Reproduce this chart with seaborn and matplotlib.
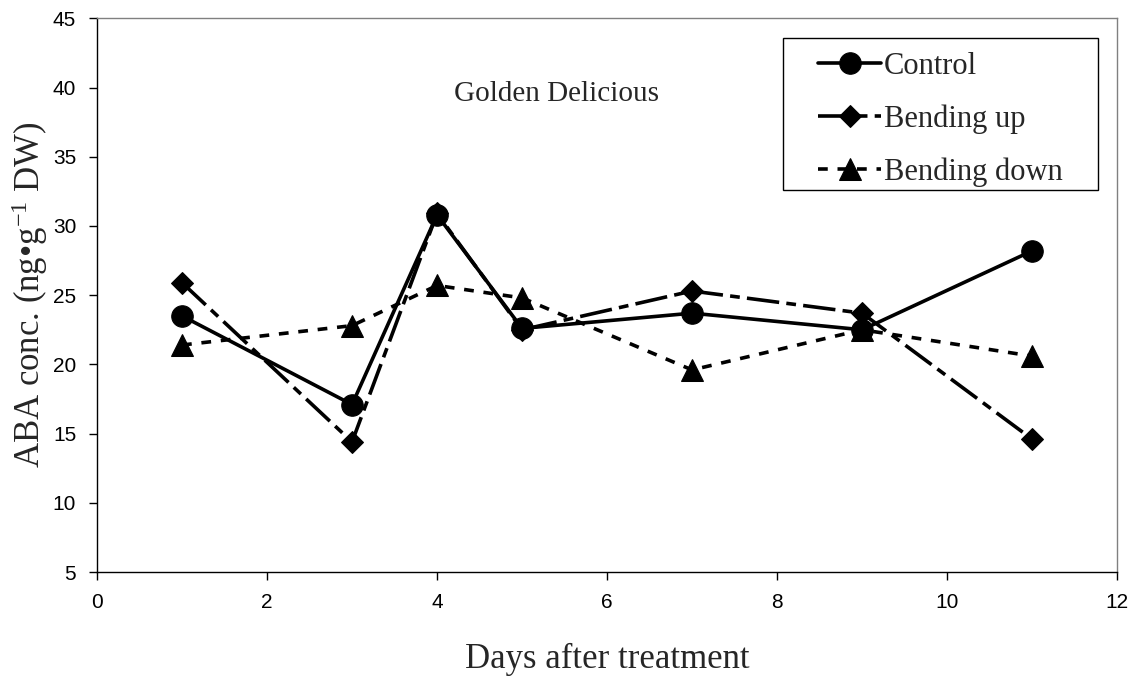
import numpy as np
import pandas as pd
import matplotlib
matplotlib.use("Agg")
import matplotlib.pyplot as plt
from matplotlib.patches import Rectangle
import seaborn as sns

# data
days = [1, 3, 4, 5, 7, 9, 11]
control = [23.5, 17.1, 30.8, 22.6, 23.7, 22.5, 28.2]
bending_up = [25.9, 14.4, 30.9, 22.5, 25.3, 23.7, 14.6]
bending_down = [21.4, 22.8, 25.7, 24.8, 19.6, 22.5, 20.6]

x_ticks = [0, 2, 4, 6, 8, 10, 12]
y_ticks = [5, 10, 15, 20, 25, 30, 35, 40, 45]

sns.set_style("white")
plt.rcParams['font.family'] = ['Liberation Sans', 'DejaVu Sans']
plt.rcParams['mathtext.fontset'] = 'custom'
plt.rcParams['mathtext.rm'] = 'Liberation Serif'
plt.rcParams['mathtext.it'] = 'Liberation Serif:italic'
plt.rcParams['mathtext.bf'] = 'Liberation Serif:bold'

fig = plt.figure(figsize=(11.36, 6.77), dpi=100)
ax = fig.add_axes([0.0854, 0.155, 0.898, 0.818])

lw = 2.6
sns.lineplot(x=days, y=control, ax=ax, color='black', lw=lw, marker='o',
             markersize=15.5, markeredgecolor='black', label='Control')
sns.lineplot(x=days, y=bending_up, ax=ax, color='black', lw=lw, marker='D',
             markersize=11, markeredgecolor='black', dashes=(9, 2, 2.7, 2),
             label='Bending up')
sns.lineplot(x=days, y=bending_down, ax=ax, color='black', lw=lw, marker='^',
             markersize=15.5, markeredgecolor='black', dashes=(2.7, 2.7),
             label='Bending down')

ax.set_xlim(0, 12)
ax.set_ylim(5, 45)
ax.set_xticks(x_ticks)
ax.set_yticks(y_ticks)
ax.tick_params(axis='both', labelsize=15, length=6, width=1, direction='out',
               left=True, bottom=True, colors='black', pad=9)

for side in ['top', 'right']:
    ax.spines[side].set_color('#808080')
    ax.spines[side].set_linewidth(1)
for side in ['left', 'bottom']:
    ax.spines[side].set_color('black')
    ax.spines[side].set_linewidth(1)

serif = ['Liberation Serif', 'DejaVu Serif']
ax.set_xlabel('Days after treatment', fontsize=25, family=serif, labelpad=22)
ax.set_ylabel('ABA conc. (ng\u2022g$^{\\mathrm{-1}}$ DW)', fontsize=25,
              family=serif, labelpad=2)
ax.text(5.4, 39.5, 'Golden Delicious', fontsize=21, family=serif,
        ha='center', va='center')

# legend box drawn separately so its padding matches the original
ax.add_patch(Rectangle((0.6725, 0.6895), 0.3085, 0.2745, transform=ax.transAxes,
                       fill=False, edgecolor='black', lw=1, zorder=5))
leg = ax.legend(loc='center', bbox_to_anchor=(0.8268, 0.818), frameon=False,
                prop={'family': serif, 'size': 22}, handlelength=2.05,
                handletextpad=0.1, borderpad=0.3, labelspacing=0.77)

fig.savefig('out.png', dpi=100)
